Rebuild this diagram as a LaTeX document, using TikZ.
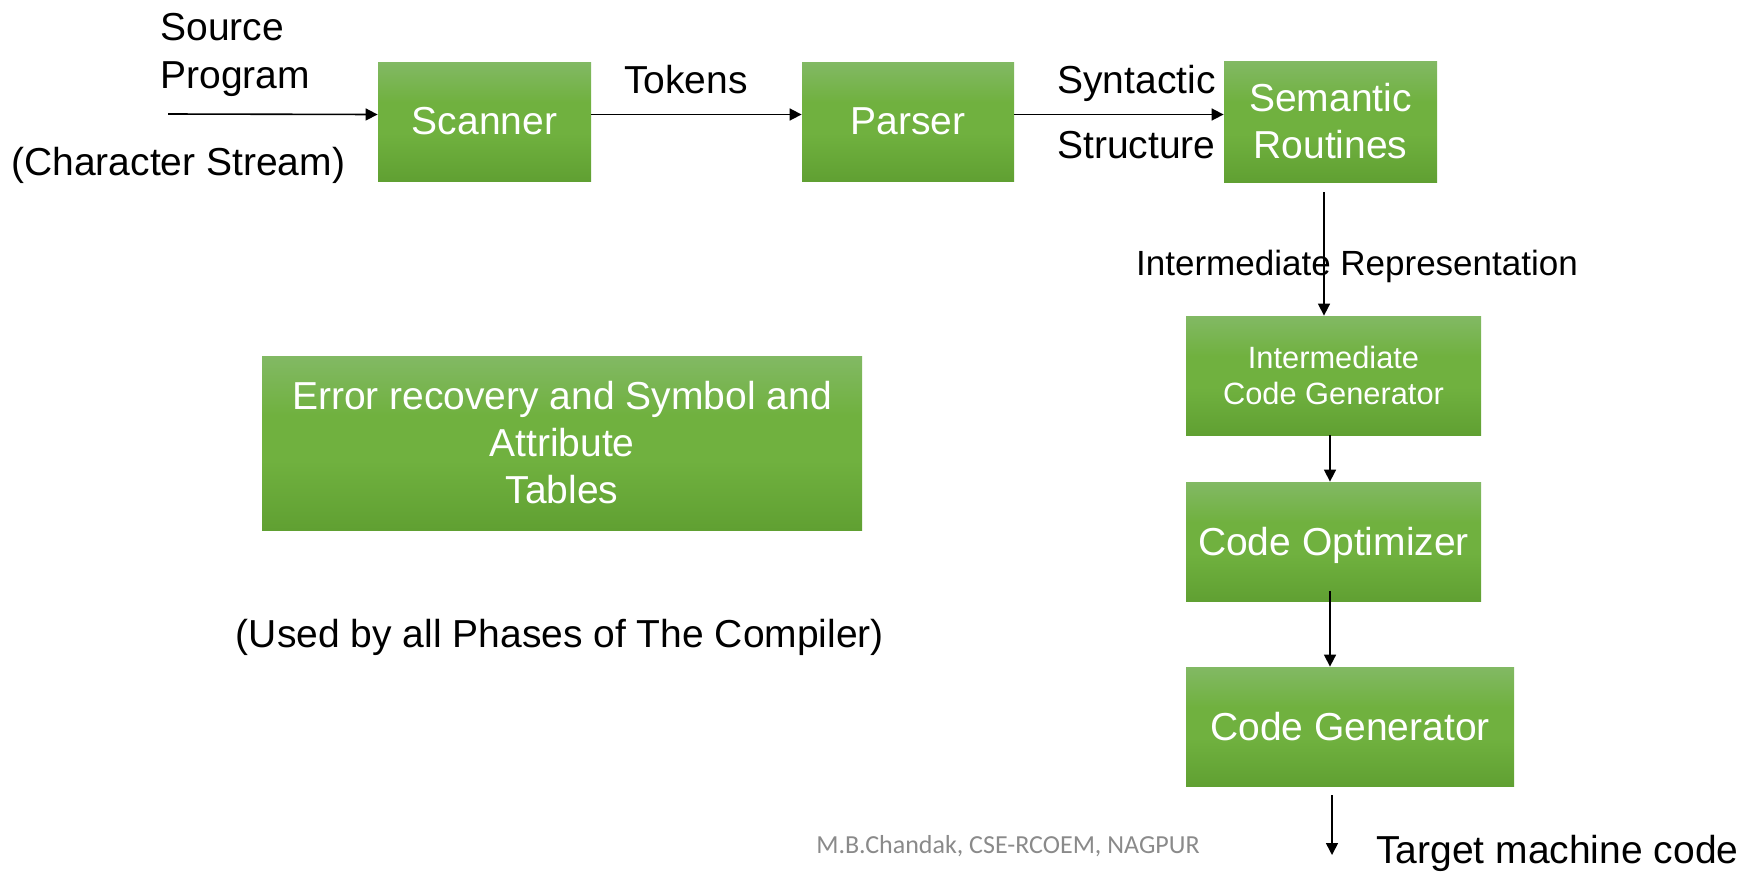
\documentclass[tikz,border=0pt]{standalone}
\usepackage{fontspec}
\setmainfont{Liberation Sans}
\newfontfamily\creditfont{Carlito}
\usetikzlibrary{arrows.meta}

\definecolor{gtop}{HTML}{82B964}
\definecolor{gmid}{HTML}{70B13F}
\definecolor{gbot}{HTML}{60A032}
\definecolor{creditgray}{HTML}{8A8A8A}

% light green at the top, darker green at the bottom
\pgfdeclareverticalshading{greenbox}{100bp}{color(0bp)=(gbot); color(25bp)=(gbot); color(45bp)=(gmid); color(58bp)=(gmid); color(75bp)=(gtop); color(100bp)=(gtop)}

\tikzset{
  phase/.style={rectangle, shading=greenbox, draw=none, text=white,
    inner sep=0pt, align=center, font=\fontsize{19.5}{23.5}\selectfont},
  lbl/.style={inner sep=0pt, font=\fontsize{19.5}{24}\selectfont},
  credit/.style={inner sep=0pt, text=creditgray, font=\creditfont\fontsize{13}{15}\selectfont},
  flow/.style={draw=black, line width=0.8pt, -{Triangle[length=6pt,width=6pt]}}
}

\begin{document}
\begin{tikzpicture}[x=0.5pt,y=-0.5pt]
\path[use as bounding box] (0,0) rectangle (1756,873);

% compiler phases
\node[phase, minimum width=106.5pt, minimum height=59.5pt] (scanner) at (484.5,121.5) {Scanner};
\node[phase, minimum width=106pt, minimum height=59.5pt] (parser) at (908,121.5) {Parser};
\node[phase, minimum width=106.5pt, minimum height=60.5pt] (sem) at (1330.5,121.5) {Semantic\\Routines};
\node[phase, minimum width=147.5pt, minimum height=59.5pt, font=\fontsize{15.4}{18}\selectfont] (icg) at (1333.5,375.5) {Intermediate\\Code Generator};
\node[phase, minimum width=147.5pt, minimum height=59.5pt, text depth=0pt] (opt) at (1333.5,541.5) {Code Optimizer};
\node[phase, minimum width=164pt, minimum height=59.5pt] (gen) at (1350,726.5) {Code Generator};
\node[phase, minimum width=300pt, minimum height=87pt] (err) at (562,443) {Error recovery and Symbol and\\Attribute\\Tables};

% labels
\node[lbl, anchor=base west] (src1) at (160,40) {Source};
\node[lbl, anchor=base west] (src2) at (160,88) {Program};
\node[lbl, anchor=base west] (chs) at (11,175) {(Character Stream)};
\node[lbl, anchor=base] (tok) at (686,93) {Tokens};
\node[lbl, anchor=base east] (syn1) at (1216,93) {Syntactic};
\node[lbl, anchor=base east] (syn2) at (1216,158) {Structure};
\node[lbl, anchor=base, font=\fontsize{17.5}{21}\selectfont] (ir) at (1357,275) {Intermediate Representation};
\node[lbl, anchor=base west] (tmc) at (1376,863) {Target machine code};
\node[lbl, anchor=base] (used) at (560,647) {(Used by all Phases of The Compiler)};
\node[credit, anchor=base] (cred) at (1008,853) {M.B.Chandak, CSE-RCOEM, NAGPUR};

% free ends of the input and output arrows
\coordinate (srcin) at (168,114);
\coordinate (tgtout) at (1332,855);

% connectors
\draw[flow] (srcin) -- ([yshift=3.5pt]scanner.west);
\draw[flow] ([yshift=3.5pt]scanner.east) -- ([yshift=3.5pt]parser.west);
\draw[flow] ([yshift=3.5pt]parser.east) -- ([yshift=3.5pt]sem.west);
\draw[flow] ([xshift=-3.25pt,yshift=-5pt]sem.south) -- ([xshift=-4.75pt]icg.north);
\draw[flow] ([xshift=-1.75pt]icg.south) -- ([xshift=-1.75pt]opt.north);
\draw[flow] ([xshift=-1.75pt,yshift=5pt]opt.south) -- ([xshift=-10pt]gen.north);
\draw[flow] ([xshift=-9pt,yshift=-4.5pt]gen.south) -- (tgtout);
\end{tikzpicture}
\end{document}
